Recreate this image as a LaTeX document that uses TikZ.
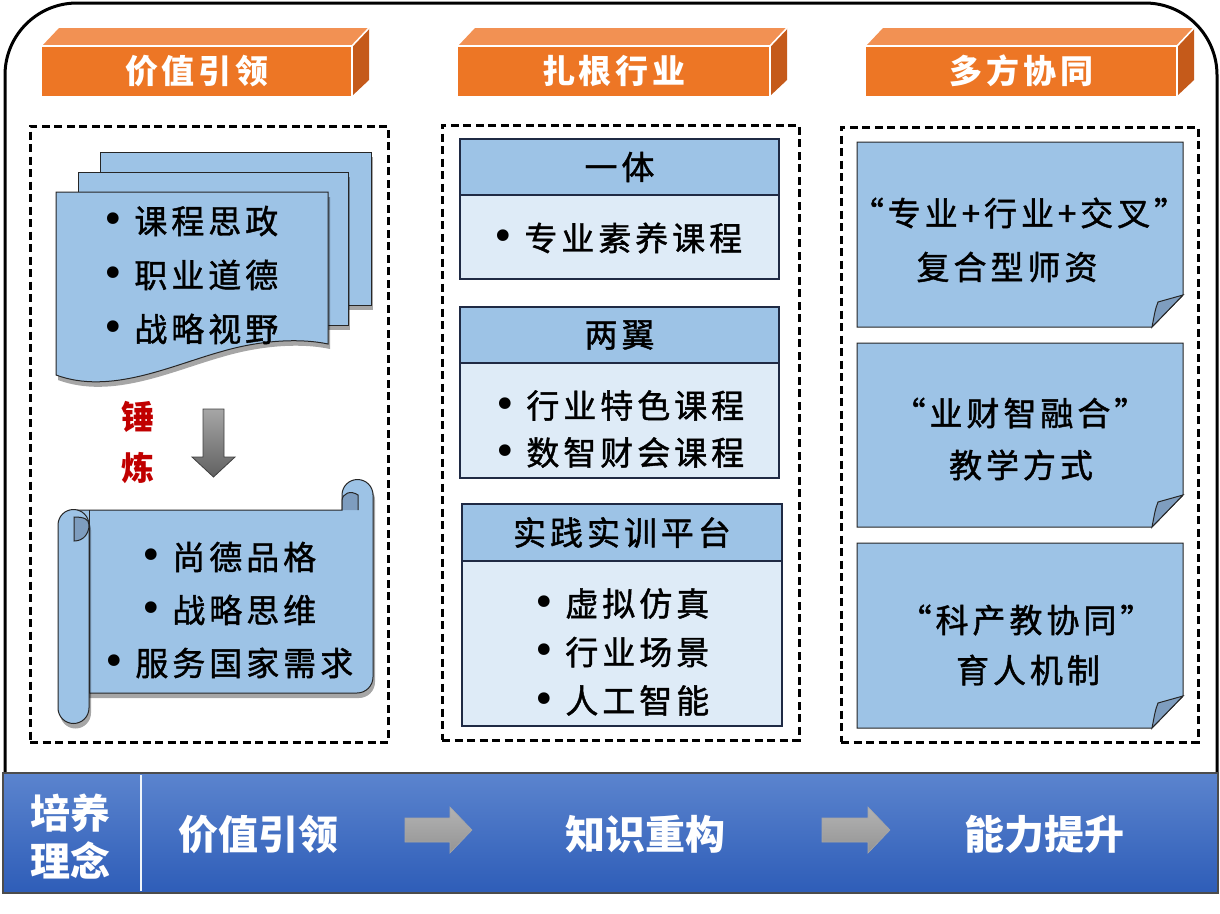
\documentclass[tikz,border=0pt]{standalone}
\usepackage{fontspec}
\usetikzlibrary{shadows}
\newfontfamily\cjk[LetterSpace=12,FakeBold=1.3]{Noto Sans CJK SC}
\newfontfamily\cjkh[LetterSpace=12]{Noto Sans CJK SC}
\newfontfamily\cjkbar{Noto Sans CJK SC}
\newfontfamily\bulfont{DejaVu Sans}
\newcommand\bu{{\bulfont\fontsize{40}{40}\selectfont •}\hspace{9pt}}
\definecolor{orgF}{HTML}{ED7625}
\definecolor{orgT}{HTML}{F29153}
\definecolor{orgR}{HTML}{C55A1A}
\definecolor{lblue}{HTML}{9DC3E6}
\definecolor{pblue}{HTML}{DEEBF7}
\definecolor{curl}{HTML}{7E9DBF}
\definecolor{barT}{HTML}{5B84CE}
\definecolor{barB}{HTML}{2E5DB8}
\definecolor{redt}{HTML}{C00000}
\definecolor{edge}{HTML}{1F2A44}
\newcommand\obox[4]{%
  \fill[orgT] (#2,46) -- (#2+17,28) -- (#3+17,28) -- (#3,46) -- cycle;
  \fill[orgR] (#3,46) -- (#3+17,28) -- (#3+17,80) -- (#3,96) -- cycle;
  \fill[orgF] (#2,46) rectangle (#3,96);
  \draw[white, line width=1.6pt] (#2,46) -- (#3,46) -- (#3,96) (#3,46) -- (#3+17,28);
  \node[hdrtxt] (#1) at ({(#2+#3)/2},71) {#4};
}
\begin{document}
\begin{tikzpicture}[x=1pt,y=-1pt,
  hdrtxt/.style={font=\cjkh\bfseries\fontsize{33}{36}\selectfont, text=white, inner sep=0pt},
  bodytxt/.style={font=\cjk\fontsize{33}{36}\selectfont, text=black, inner sep=0pt},
  dbox/.style={draw=black, line width=3pt, dash pattern=on 8pt off 4.5pt, inner sep=0pt, outer sep=0pt},
  hbox/.style={draw=edge, line width=1.2pt, fill=lblue, inner sep=0pt, outer sep=0pt},
  bbox/.style={draw=edge, line width=1.2pt, fill=pblue, inner sep=0pt, outer sep=0pt},
  sheet/.style={draw=black!85, line width=1pt, fill=lblue},
  note/.style={draw=black!85, line width=1pt, fill=lblue},
  flap/.style={draw=black!85, line width=1pt, fill=curl},
  bartxt/.style={font=\cjkbar\bfseries\fontsize{40}{46}\selectfont, text=white, inner sep=0pt},
  bararrow/.style={top color=black!30, bottom color=black!42, draw=black!35, line width=0.6pt},
  shad/.style={drop shadow={shadow xshift=2pt, shadow yshift=-5pt, opacity=0.35, fill=black}}
]
\useasboundingbox (0,0) rectangle (1220,913);
% outer frame
\draw[line width=3pt, rounded corners=72pt] (5,775) -- (5,3) -- (1217,3) -- (1217,775);
% headers
\obox{h1}{42}{352}{价值引领}
\obox{h2}{458}{770}{扎根行业}
\obox{h3}{866}{1177}{多方协同}
% dashed boxes
\node[dbox, minimum width=358, minimum height=616] (L) at (209,434) {};
\node[dbox, minimum width=357, minimum height=615] (M) at (620.5,432.5) {};
\node[dbox, minimum width=357, minimum height=615] (R) at (1019.5,434.5) {};
% left document stack
\path[sheet, shad] (100,152) rectangle (371,305);
\path[sheet, shad] (78,172) rectangle (348,325);
\path[sheet, shad] (56,192) -- (328,192) -- (328,344)
  .. controls (300,338) and (260,340) .. (220,352)
  .. controls (170,366) and (110,395) .. (56,375) -- cycle;
\node[bodytxt, align=left, font=\cjk\fontsize{33}{54}\selectfont] (doc) at (190,275) {\bu 课程思政\\\bu 职业道德\\\bu 战略视野};
% red label and down arrow
\node[bodytxt, text=redt, font=\cjkh\bfseries\fontsize{33}{36}\selectfont] (c1) at (138,417) {锤};
\node[bodytxt, text=redt, font=\cjkh\bfseries\fontsize{33}{36}\selectfont] (c2) at (138,468) {炼};
\path[top color=black!35, bottom color=black!62, draw=black!75, line width=0.8pt]
  (203,409) -- (224,409) -- (224,457) -- (235,457) -- (213.5,477) -- (192,457) -- (203,457) -- cycle;
% scroll
\path[sheet, shad] (74,510) -- (342,510) -- (342,495) arc[start angle=180, end angle=0, radius=15.5pt]
  -- (373,677) arc[start angle=0, end angle=-90, radius=16pt] -- (74,693) -- cycle;
\path[flap] (342,510) -- (342,501) .. controls (342,493) and (351,490) .. (358,495) -- (358,510);
\path[sheet, shad] (58,525) -- (58,708) arc[start angle=180, end angle=360, radius=15.5pt]
  -- (89,525) arc[start angle=0, end angle=180, radius=15.5pt] -- cycle;
\path[flap] (74,517) -- (74,541) .. controls (84,541) and (89,533) .. (89,525) .. controls (89,519) and (84,517) .. (74,517) -- cycle;
\draw[black!85, line width=1pt] (89,510) -- (89,693);
\node[bodytxt, align=center, font=\cjk\fontsize{33}{53}\selectfont] (scr) at (228,610) {\bu 尚德品格\\\bu 战略思维\\\bu 服务国家需求};
% middle boxes
\node[hbox, minimum width=319, minimum height=56] (m1h) at (619.5,167) {};
\node[bbox, minimum width=319, minimum height=84] (m1b) at (619.5,237) {};
\node[hbox, minimum width=319, minimum height=56] (m2h) at (619.5,335) {};
\node[bbox, minimum width=319, minimum height=115] (m2b) at (619.5,420.5) {};
\node[hbox, minimum width=320, minimum height=57] (m3h) at (622,532.5) {};
\node[bbox, minimum width=320, minimum height=165] (m3b) at (622,643.5) {};
\node[bodytxt] (t1h) at (m1h) {一体};
\node[bodytxt] (t1b) at (617,238) {\bu 专业素养课程};
\node[bodytxt] (t2h) at (m2h) {两翼};
\node[bodytxt, align=left, font=\cjk\fontsize{33}{47}\selectfont] (t2b) at (619,429) {\bu 行业特色课程\\\bu 数智财会课程};
\node[bodytxt] (t3h) at (m3h) {实践实训平台};
\node[bodytxt, align=left, font=\cjk\fontsize{33}{48.5}\selectfont] (t3b) at (621,652) {\bu 虚拟仿真\\\bu 行业场景\\\bu 人工智能};
% right notes with folded corner
\foreach \n/\t/\b in {n1/142/327, n2/343/527, n3/543/728}{
  \path[note] (857,\t) -- (1183,\t) -- (1183,\b-32) -- (1152,\b) -- (857,\b) -- cycle;
  \path[flap] (1152,\b) .. controls (1154,\b-10) and (1155,\b-18) .. (1158,\b-25) -- (1183,\b-32) -- cycle;
}
\node[bodytxt] (r1a) at (1019,213) {“专业+行业+交叉”};
\node[bodytxt] (r1b) at (1007,267) {复合型师资};
\node[bodytxt] (r2a) at (1020,413) {“业财智融合”};
\node[bodytxt] (r2b) at (1021,465) {教学方式};
\node[bodytxt] (r3a) at (1026,620) {“科产教协同”};
\node[bodytxt] (r3b) at (1028,670) {育人机制};
% bottom bar
\node[top color=barT, bottom color=barB, draw=black!70, line width=1.2pt, minimum width=1215, minimum height=120, inner sep=0pt] (bar) at (610.5,833) {};
\draw[white!85!lblue, line width=2pt] (141,775) -- (141,891);
\node[bartxt, align=center, font=\cjkbar\bfseries\fontsize{40}{48}\selectfont] (b0) at (70,837) {培养\\理念};
\node[bartxt] (b1) at (258,834) {价值引领};
\node[bartxt] (b2) at (645,834) {知识重构};
\node[bartxt] (b3) at (1044,834) {能力提升};
\path[bararrow] (405,818) -- (450,818) -- (450,807) -- (472,830) -- (450,853) -- (450,842) -- (405,842) -- cycle;
\path[bararrow] (822,818) -- (868,818) -- (868,807) -- (890,830) -- (868,853) -- (868,842) -- (822,842) -- cycle;
\end{tikzpicture}
\end{document}
